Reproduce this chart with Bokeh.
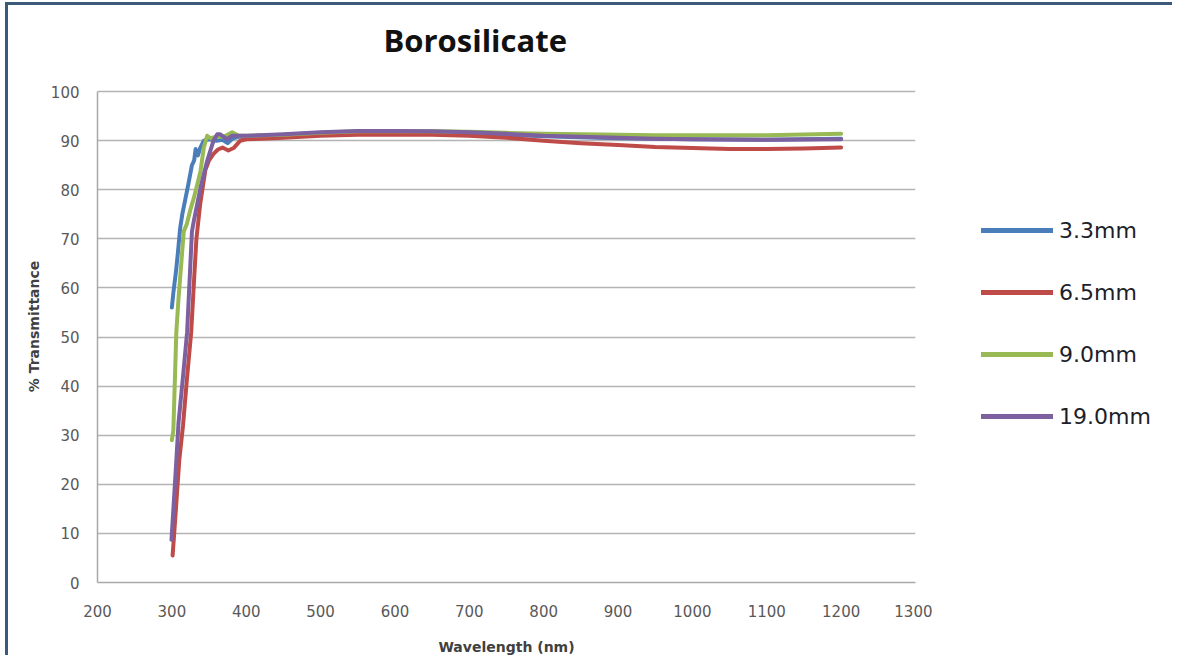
from bokeh.plotting import figure
from bokeh.layouts import row
from bokeh.models import Range1d, FixedTicker, Legend, LegendItem
from bokeh.embed import file_html
from bokeh.resources import INLINE

# ---- data ----
x_ticks = [200, 300, 400, 500, 600, 700, 800, 900, 1000, 1100, 1200, 1300]
y_ticks = [0, 10, 20, 30, 40, 50, 60, 70, 80, 90, 100]

series_names = ["3.3mm", "6.5mm", "9.0mm", "19.0mm"]
series_colors = ["#4a7ebb", "#be4b48", "#98b954", "#7d60a0"]

wl_33 = [300, 302, 305, 306, 308, 311, 314, 318, 322, 327, 330, 332, 335, 338, 343, 350,
         360, 368, 375, 382, 390, 400, 450, 500, 550, 600, 700, 800, 900, 1000, 1100, 1200]
tr_33 = [56, 59, 62.7, 64, 67, 72, 75, 78, 81, 85, 86, 88.3, 87, 88.5, 90, 90.3,
         90, 90.2, 89.5, 90.5, 90.8, 90.8, 91, 91.5, 91.8, 91.8, 91.5, 90.9, 90.5, 90.3, 90.2, 90.4]

wl_65 = [301, 305, 310, 315, 320, 326, 330, 333, 338, 345, 350, 356, 362, 368, 376, 383,
         392, 400, 420, 450, 500, 550, 600, 650, 700, 750, 800, 850, 900, 950, 1000, 1050,
         1100, 1150, 1200]
tr_65 = [5.5, 14, 25, 32, 41, 51, 62, 70, 77, 84, 86, 87.3, 88.2, 88.6, 88, 88.5,
         90, 90.3, 90.4, 90.6, 91, 91.2, 91.2, 91.2, 91, 90.6, 90, 89.5, 89.1, 88.7, 88.5, 88.3,
         88.3, 88.4, 88.6]

wl_90 = [300, 302, 306, 309, 312.5, 316, 320, 325, 329.5, 334, 338.5, 343, 347.5, 352,
         360, 370, 381, 390, 400, 450, 500, 550, 600, 650, 700, 750, 800, 850, 900, 950,
         1000, 1100, 1200]
tr_90 = [29, 31, 51, 58, 64.7, 71.5, 73, 76, 78.3, 81, 83.8, 88.6, 91, 90.5,
         90.8, 90.8, 91.7, 91, 91, 91.2, 91.6, 91.9, 91.9, 91.9, 91.8, 91.6, 91.4, 91.3, 91.2, 91.1,
         91.1, 91.1, 91.4]

wl_190 = [299.5, 305, 309, 315, 320.5, 327, 329.5, 338.5, 347.5, 356, 361, 365, 374, 381,
          390, 400, 450, 500, 550, 600, 650, 700, 750, 800, 850, 900, 950, 1000, 1100, 1200]
tr_190 = [8.7, 22.3, 32.6, 42, 51, 71.5, 73.6, 80.4, 85.9, 90, 91.3, 91.3, 90.3, 91,
          91, 91, 91.3, 91.7, 92, 92, 91.9, 91.7, 91.4, 91, 90.8, 90.6, 90.4, 90.3, 90.2, 90.3]

series_x = [wl_33, wl_65, wl_90, wl_190]
series_y = [tr_33, tr_65, tr_90, tr_190]

border_color = "#3b5a7a"

# ---- main chart ----
# the plotting area reaches a little above 100 so the title can sit higher;
# axis and grid stay bounded to 0..100
p = figure(width=927, height=653, output_backend="svg", toolbar_location=None,
           x_range=Range1d(200, 1300), y_range=Range1d(0, 104.3),
           min_border_left=89, min_border_right=20, min_border_top=65, min_border_bottom=76)
p.styles = {"margin-left": "5px", "margin-top": "2px",
            "border-left": f"3px solid {border_color}", "border-top": f"3px solid {border_color}"}

p.background_fill_color = "white"
p.border_fill_color = "white"
p.outline_line_color = None

p.title.text = "Borosilicate"
p.title.text_font = "Open Sans"
p.title.text_font_style = "bold"
p.title.text_font_size = "31px"
p.title.text_color = "#111111"
p.title.align = "left"
p.title.vertical_align = "bottom"
p.title.offset = 286
p.title.standoff = 20

p.xgrid.grid_line_color = None
p.ygrid.grid_line_color = "#b4b4b4"
p.ygrid.grid_line_width = 1.5

for ax in (p.xaxis[0], p.yaxis[0]):
    ax.axis_line_color = "#a8a8a8"
    ax.axis_line_width = 1.5
    ax.major_tick_line_color = None
    ax.minor_tick_line_color = None
    ax.major_label_text_font = "DejaVu Sans"
    ax.major_label_text_font_size = "15px"
    ax.major_label_text_color = "#595959"
    ax.axis_label_text_font = "DejaVu Sans"
    ax.axis_label_text_font_style = "bold"
    ax.axis_label_text_font_size = "14px"
    ax.axis_label_text_color = "#404040"

p.xaxis.ticker = FixedTicker(ticks=x_ticks)
p.yaxis.ticker = FixedTicker(ticks=y_ticks)
p.yaxis.bounds = (0, 100)
p.xaxis.axis_label = "Wavelength (nm)"
p.yaxis.axis_label = "% Transmittance"
p.yaxis.major_label_standoff = 12
p.xaxis.major_label_standoff = 16
p.yaxis.axis_label_standoff = 6
p.xaxis.axis_label_standoff = 19

for col, xs, ys in zip(series_colors, series_x, series_y):
    p.line(xs, ys, line_color=col, line_width=4, line_cap="round", line_join="round")

# ---- legend area (to the right of the chart) ----
q = figure(width=240, height=650, output_backend="svg", toolbar_location=None,
           x_range=Range1d(0, 1), y_range=Range1d(0, 1),
           x_axis_location=None, y_axis_location=None,
           min_border_left=0, min_border_right=0, min_border_top=0, min_border_bottom=0)
q.styles = {"margin-top": "2px", "border-top": f"3px solid {border_color}"}
q.grid.visible = False
q.outline_line_color = None
q.background_fill_color = "white"
q.border_fill_color = "white"

items = []
for name, col, xs, ys in zip(series_names, series_colors, series_x, series_y):
    # same series, outside this panel's view: only its legend swatch is seen
    r = q.line(xs, ys, line_color=col, line_width=5, line_cap="round")
    items.append(LegendItem(label=name, renderers=[r]))

legend = Legend(items=items, location=(49, 148), orientation="vertical",
                glyph_width=72, glyph_height=30, label_height=30, spacing=32,
                label_standoff=6, padding=0, margin=0,
                label_text_font="DejaVu Sans", label_text_font_size="22px",
                label_text_color="#1e1e28", border_line_color=None,
                background_fill_alpha=0)
q.add_layout(legend, "center")

layout = row(p, q)
open("out.html", "w").write(file_html(layout, INLINE))
